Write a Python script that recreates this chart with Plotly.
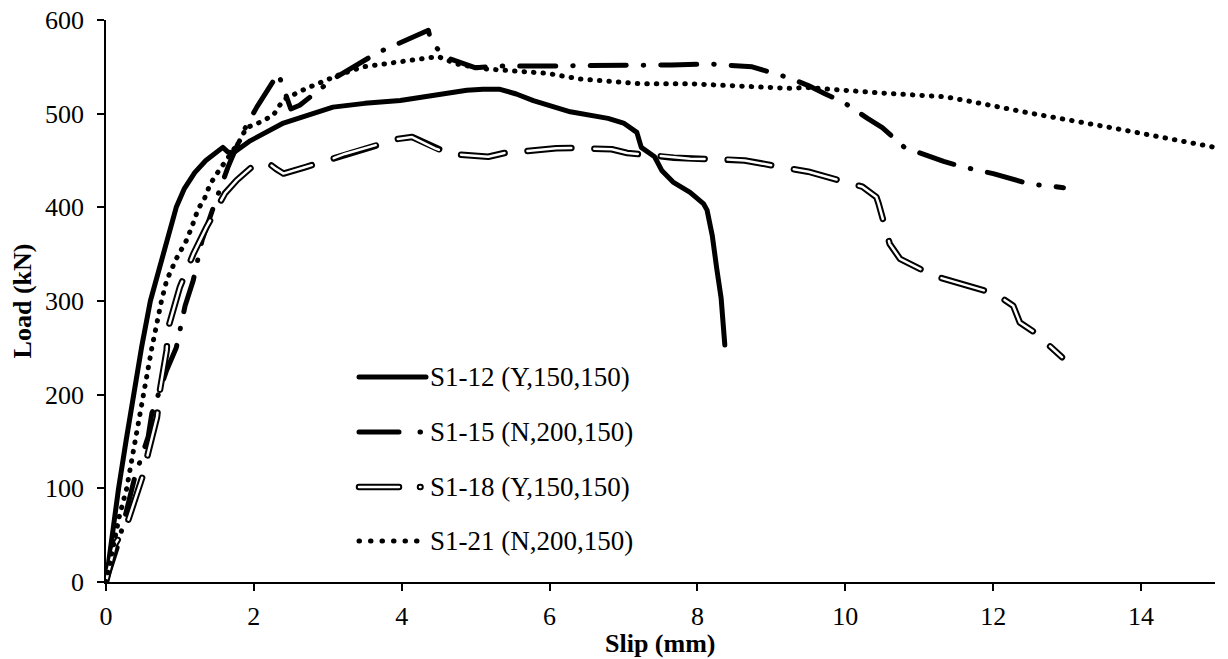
import plotly.graph_objects as go

# ---------------- data ----------------
slip_s12 = [0, 0.08, 0.17, 0.27, 0.37, 0.48, 0.6, 0.68, 0.78, 0.87, 0.95, 1.06, 1.2, 1.35, 1.52, 1.58,
            1.65, 1.72, 1.95, 2.4, 3.07, 3.5, 3.98, 4.5, 4.88, 5.1, 5.33, 5.55, 5.78, 6.28, 6.79, 7.0,
            7.18, 7.24, 7.35, 7.42, 7.52, 7.67, 7.9, 8.08, 8.13, 8.2, 8.26, 8.32, 8.37]
load_s12 = [0, 48, 100, 150, 200, 250, 300, 322, 350, 378, 400, 420, 437, 450, 461, 464,
            459, 458, 471, 490, 507, 511, 514, 520, 525, 526, 526, 521, 514, 502, 495, 490,
            480, 464, 457, 454, 439, 427, 416, 404, 397, 370, 335, 303, 253]

slip_s15 = [0, 0.16, 0.39, 0.57, 0.62, 0.82, 0.95, 1.07, 1.18, 1.3, 1.47, 1.65, 1.85, 2.04, 2.33, 2.5,
            2.62, 3.07, 3.67, 4.36, 4.4, 4.6, 5.0, 5.33, 6.09, 6.97, 7.65, 8.18, 8.45, 8.74, 9.25, 9.5,
            9.73, 9.98, 10.3, 10.5, 10.8, 11.08, 11.33, 11.6, 12.0, 12.49, 12.75, 12.95]
load_s15 = [0, 39, 112, 155, 180, 226, 250, 295, 322, 365, 404, 443, 480, 507, 543, 505,
            509, 537, 565, 589, 576, 560, 549, 551, 551, 551, 552, 553, 551, 550, 538, 530,
            521, 512, 495, 485, 464, 456, 449, 443, 436, 425, 423, 421]

slip_s18 = [0, 0.12, 0.28, 0.5, 0.57, 0.69, 0.73, 0.82, 0.84, 1.0, 1.18, 1.36, 1.61, 1.77, 2.0, 2.2,
            2.3, 2.4, 2.7, 3.03, 3.23, 3.73, 3.94, 4.14, 4.25, 4.45, 4.65, 5.17, 5.39, 6.09, 6.32, 6.84,
            7.05, 7.68, 7.9, 8.4, 8.64, 9.28, 9.5, 10.0, 10.23, 10.42, 10.45, 10.6, 10.74, 11.19, 11.41,
            11.89, 12.1, 12.27, 12.36, 12.57, 12.93]
load_s18 = [0, 40, 61, 114, 138, 176, 205, 247, 271, 315, 350, 379, 415, 429, 445, 447,
            441, 436, 443, 451, 457, 468, 473, 475, 471, 463, 457, 454, 458, 463, 463.5, 462,
            458, 453, 452, 451, 450, 441, 438, 427, 422, 411, 404, 361, 345, 327, 322,
            311, 304, 295, 277, 266, 240]

slip_s21 = [0, 0.1, 0.18, 0.28, 0.39, 0.5, 0.62, 0.75, 0.82, 0.95, 1.09, 1.16, 1.25, 1.32, 1.41, 1.5,
            1.58, 1.68, 1.8, 1.9, 2.06, 2.26, 2.4, 2.71, 2.9, 3.17, 3.48, 4.0, 4.49, 4.75, 5.1, 5.97,
            6.41, 7.22, 7.87, 9.25, 9.47, 10.5, 11.35, 11.7, 12.47, 13.6, 15.0]
load_s21 = [0, 40, 70, 100, 150, 200, 250, 300, 322, 345, 365, 379, 399, 407, 425, 436,
            445, 455, 470, 485, 490, 498, 515, 527, 533, 542, 550, 555, 561, 553, 548, 543,
            537, 532, 532, 527, 528, 522, 518, 513, 501, 485, 464]

series_names = ["S1-12 (Y,150,150)", "S1-15 (N,200,150)", "S1-18 (Y,150,150)", "S1-21 (N,200,150)"]

x_ticks = [0, 2, 4, 6, 8, 10, 12, 14]
y_ticks = [0, 100, 200, 300, 400, 500, 600]
x_title = "Slip (mm)"
y_title = "Load (kN)"

# ---------------- figure ----------------
W, H = 1228, 659
ML, MR, MT, MB = 106, 13, 20, 77
FONT = "Liberation Serif, Times New Roman, serif"

DASHDOT = "36px,17px,0.5px,17px"
HOLLOW = "44px,23px"
DOTS = "0.5px,9px"

fig = go.Figure()
fig.add_trace(go.Scatter(x=slip_s12, y=load_s12, mode="lines", name=series_names[0],
                         line=dict(color="black", width=5), showlegend=False))
fig.add_trace(go.Scatter(x=slip_s15, y=load_s15, mode="lines", name=series_names[1],
                         line=dict(color="black", width=5, dash=DASHDOT), showlegend=False))
fig.add_trace(go.Scatter(x=slip_s18, y=load_s18, mode="lines", name=series_names[2],
                         line=dict(color="black", width=6.5, dash=HOLLOW), showlegend=False))
fig.add_trace(go.Scatter(x=slip_s18, y=load_s18, mode="lines", name=series_names[2] + " core",
                         line=dict(color="white", width=2.5, dash=HOLLOW), showlegend=False,
                         hoverinfo="skip"))
fig.add_trace(go.Scatter(x=slip_s21, y=load_s21, mode="lines", name=series_names[3],
                         line=dict(color="black", width=5, dash=DOTS), showlegend=False))

# ---------------- custom legend (shapes + text), positions in window pixels ----------------
PW = W - ML - MR
PH = H - MT - MB


def px(xp):
    return (xp - ML) / PW


def py(yp):
    return (H - MB - yp) / PH


leg_rows = [377, 432, 487, 541]
LD = "40px,21px,0.5px,40px"
shapes = [
    dict(type="line", xref="paper", yref="paper", x0=px(359), x1=px(426),
         y0=py(leg_rows[0]), y1=py(leg_rows[0]), line=dict(color="black", width=5)),
    dict(type="line", xref="paper", yref="paper", x0=px(359), x1=px(424),
         y0=py(leg_rows[1]), y1=py(leg_rows[1]), line=dict(color="black", width=5, dash=LD)),
    dict(type="line", xref="paper", yref="paper", x0=px(359), x1=px(424),
         y0=py(leg_rows[2]), y1=py(leg_rows[2]), line=dict(color="black", width=6.5, dash=LD)),
    dict(type="line", xref="paper", yref="paper", x0=px(359), x1=px(424),
         y0=py(leg_rows[2]), y1=py(leg_rows[2]), line=dict(color="white", width=2.5, dash=LD)),
    dict(type="line", xref="paper", yref="paper", x0=px(359), x1=px(420),
         y0=py(leg_rows[3]), y1=py(leg_rows[3]), line=dict(color="black", width=5, dash="0.5px,11px")),
]

annotations = []
for name, yr in zip(series_names, leg_rows):
    annotations.append(dict(text=name, xref="paper", yref="paper", x=px(428), y=py(yr),
                            xanchor="left", yanchor="middle", showarrow=False,
                            font=dict(family=FONT, size=27, color="black")))
# x-axis title placed explicitly
annotations.append(dict(text=x_title, xref="paper", yref="paper", x=0.5, y=py(643),
                        xanchor="center", yanchor="middle", showarrow=False,
                        font=dict(family=FONT, size=26, color="black", weight="bold")))

fig.update_layout(
    width=W, height=H,
    margin=dict(l=ML, r=MR, t=MT, b=MB, autoexpand=False),
    paper_bgcolor="white", plot_bgcolor="white",
    font=dict(family=FONT, size=26, color="black"),
    shapes=shapes, annotations=annotations,
    showlegend=False,
)
fig.update_xaxes(range=[0, 15], tickvals=x_ticks, ticktext=[str(v) for v in x_ticks],
                 showline=True, linecolor="black", linewidth=1.5, mirror=False,
                 ticks="outside", ticklen=7, tickwidth=1.5, tickcolor="black",
                 ticklabelstandoff=3,
                 showgrid=False, zeroline=False)
fig.update_yaxes(range=[0, 600], tickvals=y_ticks, ticktext=[str(v) for v in y_ticks],
                 showline=True, linecolor="black", linewidth=1.5, mirror=False,
                 ticks="outside", ticklen=7, tickwidth=1.5, tickcolor="black",
                 ticklabelstandoff=8,
                 showgrid=False, zeroline=False,
                 title=dict(text=y_title, standoff=6,
                            font=dict(family=FONT, size=26, color="black", weight="bold")))

post = ("document.body.style.margin='0';"
        "document.querySelectorAll('path.js-line, .shapelayer path').forEach(function(p){"
        "p.style.strokeLinecap='round';p.style.strokeLinejoin='round';});")

fig.write_html("out.html", post_script=post, config={"displayModeBar": False})
